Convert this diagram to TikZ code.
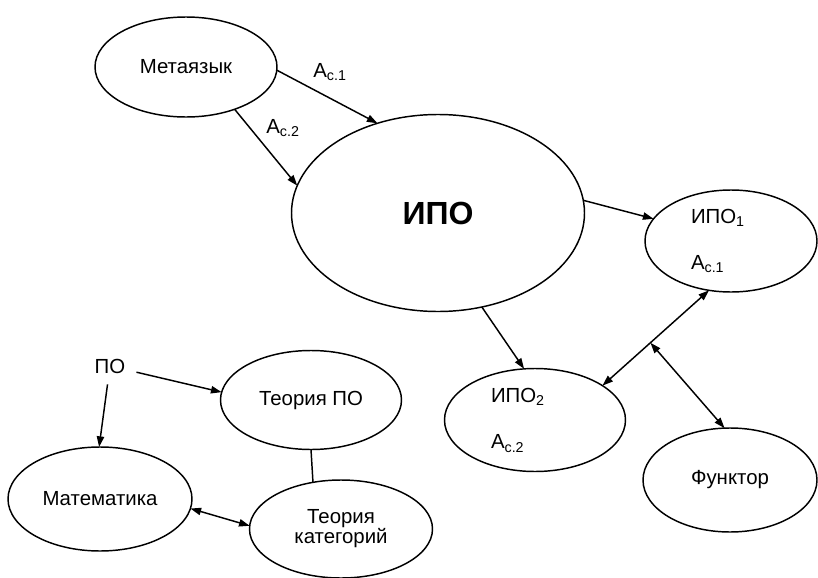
\documentclass[tikz,border=0pt]{standalone}
\usepackage{fontspec}
\setmainfont{Liberation Sans}
\usetikzlibrary{arrows.meta,shapes.geometric}

\tikzset{every picture/.style={line width=0.75pt}}

\begin{document}
\begin{tikzpicture}[x=0.75pt,y=0.75pt,yscale=-1,xscale=1,
  oval/.style={draw,ellipse,line width=1.1pt,inner sep=0pt,outer sep=0pt,font=\fontsize{15.3}{15}\selectfont},
  arr/.style={line width=1.1pt,-{Triangle[length=8pt,width=5.5pt]}},
  darr/.style={line width=1.1pt,{Triangle[length=8pt,width=5.5pt]}-{Triangle[length=8pt,width=5.5pt]}},
  lbl/.style={inner sep=0pt,font=\fontsize{15.3}{15}\selectfont}]
%uncomment if require: \path (0,578); %set diagram left start at 0, and has height of 578
\useasboundingbox (0,0) rectangle (818,578);

%Shape: Ellipse [id:meta]
\node[oval,minimum width=136.5pt,minimum height=75pt] (meta) at (186,67) {Метаязык};
%Shape: Ellipse [id:ipo]
\node[oval,minimum width=219.75pt,minimum height=147.75pt,font=\fontsize{24}{26}\selectfont\bfseries] (ipo) at (438,213) {ИПО};
%Shape: Ellipse [id:ipo1]
\node[oval,minimum width=129pt,minimum height=76.5pt,text width=60pt,align=left] (ipo1) at (731,241) {ИПО\textsubscript{1}\\[20pt]A\textsubscript{c.1}};
%Shape: Ellipse [id:ipo2]
\node[oval,minimum width=135.75pt,minimum height=77.25pt,text width=66pt,align=left] (ipo2) at (535,420) {ИПО\textsubscript{2}\\[20pt]A\textsubscript{c.2}};
%Shape: Ellipse [id:funk]
\node[oval,minimum width=130.5pt,minimum height=78pt] (funk) at (730,480) {Функтор};
%Shape: Ellipse [id:tpo]
\node[oval,minimum width=135.75pt,minimum height=74.25pt] (tpo) at (311,400) {Теория ПО};
%Shape: Ellipse [id:mat]
\node[oval,minimum width=138pt,minimum height=78pt] (mat) at (100,499) {Математика};
%Shape: Ellipse [id:tk]
\node[oval,minimum width=137.25pt,minimum height=73.5pt,align=center] (tk) at (341,529) {Теория\\категорий};

% Text Node
\node[lbl,inner sep=8pt] (po) at (110,366) {ПО};
% Text Node
\node[lbl] (ac1) at (330,72) {A\textsubscript{c.1}};
% Text Node
\node[lbl] (ac2) at (283,128) {A\textsubscript{c.2}};

%Straight Lines
\draw[arr] (meta.-2) -- (ipo.124);
\draw[arr] (meta.-41) -- (ipo.169);
\draw[arr] (ipo.5) -- (ipo1.164);
\draw[arr] (ipo.-65) -- (ipo2.102);
\draw[darr] (ipo2.27) -- coordinate[pos=0.45] (mid) (ipo1.-114);
\draw[darr] (mid) -- (funk.96);
\draw[arr] (po) -- (tpo.175);
\draw[arr] (po) -- (mat.91);
\draw[line width=1.1pt] (tpo.south) -- (tk.121);
\draw[darr] (mat.-6) -- (tk.178);

\end{tikzpicture}
\end{document}
